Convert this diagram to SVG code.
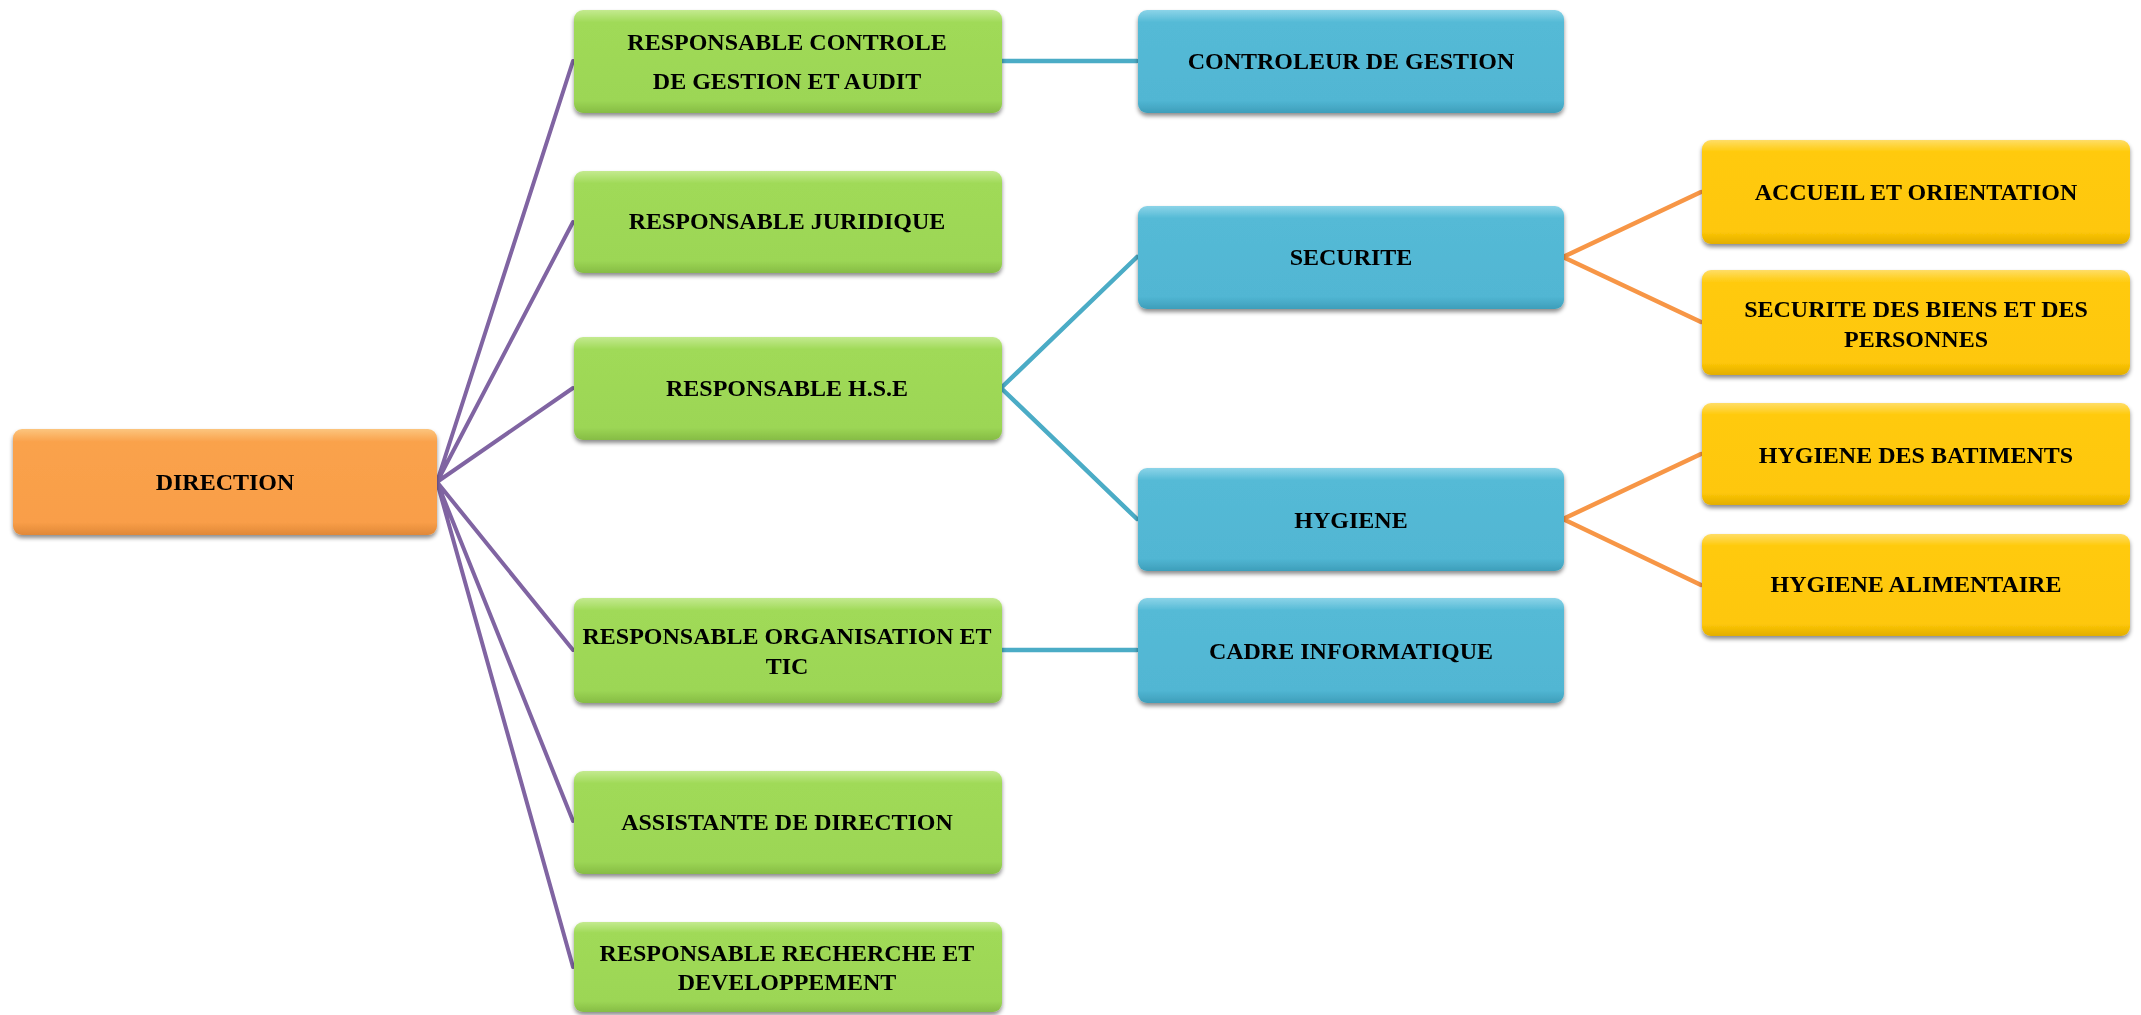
<svg xmlns="http://www.w3.org/2000/svg" width="2141" height="1015" viewBox="0 0 2141 1015">
<style>
text{font-family:"Liberation Serif","Times New Roman",serif;font-weight:bold;font-size:24px;fill:#000;text-anchor:middle}
.box{filter:url(#sh)}
.or{fill:url(#gOr)}.gr{fill:url(#gGr)}.bl{fill:url(#gBl)}.ye{fill:url(#gYe)}
.cp{stroke:#8064A2;stroke-width:4;fill:none;stroke-linecap:round}
.ct{stroke:#4BACC6;stroke-width:4.5;fill:none;stroke-linecap:round}
.co{stroke:#F79646;stroke-width:4.5;fill:none;stroke-linecap:round}
</style>
<defs>
<filter id="sh" x="-5%" y="-10%" width="110%" height="130%"><feDropShadow dx="0" dy="3" stdDeviation="2" flood-color="#000" flood-opacity="0.45"/></filter>
<linearGradient id="gOr" x1="0" y1="0" x2="0" y2="1"><stop offset="0" stop-color="#FCC57E"/><stop offset="0.12" stop-color="#FAA24C"/><stop offset="0.88" stop-color="#F99E48"/><stop offset="1" stop-color="#E08838"/></linearGradient>
<linearGradient id="gGr" x1="0" y1="0" x2="0" y2="1"><stop offset="0" stop-color="#C4EA90"/><stop offset="0.12" stop-color="#A0DA58"/><stop offset="0.88" stop-color="#9CD655"/><stop offset="1" stop-color="#86BC45"/></linearGradient>
<linearGradient id="gBl" x1="0" y1="0" x2="0" y2="1"><stop offset="0" stop-color="#8CD4E8"/><stop offset="0.12" stop-color="#54BAD6"/><stop offset="0.88" stop-color="#51B6D3"/><stop offset="1" stop-color="#3D9EBA"/></linearGradient>
<linearGradient id="gYe" x1="0" y1="0" x2="0" y2="1"><stop offset="0" stop-color="#FFDD66"/><stop offset="0.12" stop-color="#FFCA0A"/><stop offset="0.88" stop-color="#FEC708"/><stop offset="1" stop-color="#E2AE00"/></linearGradient>
</defs>
<rect width="2141" height="1015" fill="#fff"/>
<g id="connectors">
<path class="cp" d="M437 482 L573 61 M437 482 L573 222 M437 482 L573 388 M437 482 L573 650 M437 482 L573 821 M437 482 L573 967"/>
<path class="ct" d="M1001 61 L1137 61 M1001 388 L1137 257 M1001 388 L1137 519 M1001 650 L1137 650"/>
<path class="co" d="M1563 257 L1701 192 M1563 257 L1701 322 M1563 519 L1701 454 M1563 519 L1701 585"/>
</g>
<g id="n-direction" class="box"><rect class="or" x="13" y="429" width="424" height="106" rx="9"/><text x="225" y="490">DIRECTION</text></g>
<g id="n-controle" class="box"><rect class="gr" x="574" y="10" width="428" height="103" rx="9"/><text x="787" y="50">RESPONSABLE CONTROLE</text><text x="787" y="89">DE GESTION ET AUDIT</text></g>
<g id="n-juridique" class="box"><rect class="gr" x="574" y="171" width="428" height="102" rx="9"/><text x="787" y="229">RESPONSABLE JURIDIQUE</text></g>
<g id="n-hse" class="box"><rect class="gr" x="574" y="337" width="428" height="103" rx="9"/><text x="787" y="396">RESPONSABLE H.S.E</text></g>
<g id="n-tic" class="box"><rect class="gr" x="574" y="598" width="428" height="105" rx="9"/><text x="787" y="644">RESPONSABLE ORGANISATION ET</text><text x="787" y="674">TIC</text></g>
<g id="n-assistante" class="box"><rect class="gr" x="574" y="771" width="428" height="103" rx="9"/><text x="787" y="830">ASSISTANTE DE DIRECTION</text></g>
<g id="n-recherche" class="box"><rect class="gr" x="574" y="922" width="428" height="90" rx="9"/><text x="787" y="961">RESPONSABLE RECHERCHE ET</text><text x="787" y="990">DEVELOPPEMENT</text></g>
<g id="n-controleur" class="box"><rect class="bl" x="1138" y="10" width="426" height="103" rx="9"/><text x="1351" y="69">CONTROLEUR DE GESTION</text></g>
<g id="n-securite" class="box"><rect class="bl" x="1138" y="206" width="426" height="103" rx="9"/><text x="1351" y="265">SECURITE</text></g>
<g id="n-hygiene" class="box"><rect class="bl" x="1138" y="468" width="426" height="103" rx="9"/><text x="1351" y="528">HYGIENE</text></g>
<g id="n-cadre" class="box"><rect class="bl" x="1138" y="598" width="426" height="105" rx="9"/><text x="1351" y="659">CADRE INFORMATIQUE</text></g>
<g id="n-accueil" class="box"><rect class="ye" x="1702" y="140" width="428" height="104" rx="9"/><text x="1916" y="200">ACCUEIL ET ORIENTATION</text></g>
<g id="n-biens" class="box"><rect class="ye" x="1702" y="270" width="428" height="105" rx="9"/><text x="1916" y="317">SECURITE DES BIENS ET DES</text><text x="1916" y="347">PERSONNES</text></g>
<g id="n-batiments" class="box"><rect class="ye" x="1702" y="403" width="428" height="102" rx="9"/><text x="1916" y="463">HYGIENE DES BATIMENTS</text></g>
<g id="n-alimentaire" class="box"><rect class="ye" x="1702" y="534" width="428" height="102" rx="9"/><text x="1916" y="592">HYGIENE ALIMENTAIRE</text></g>
</svg>
